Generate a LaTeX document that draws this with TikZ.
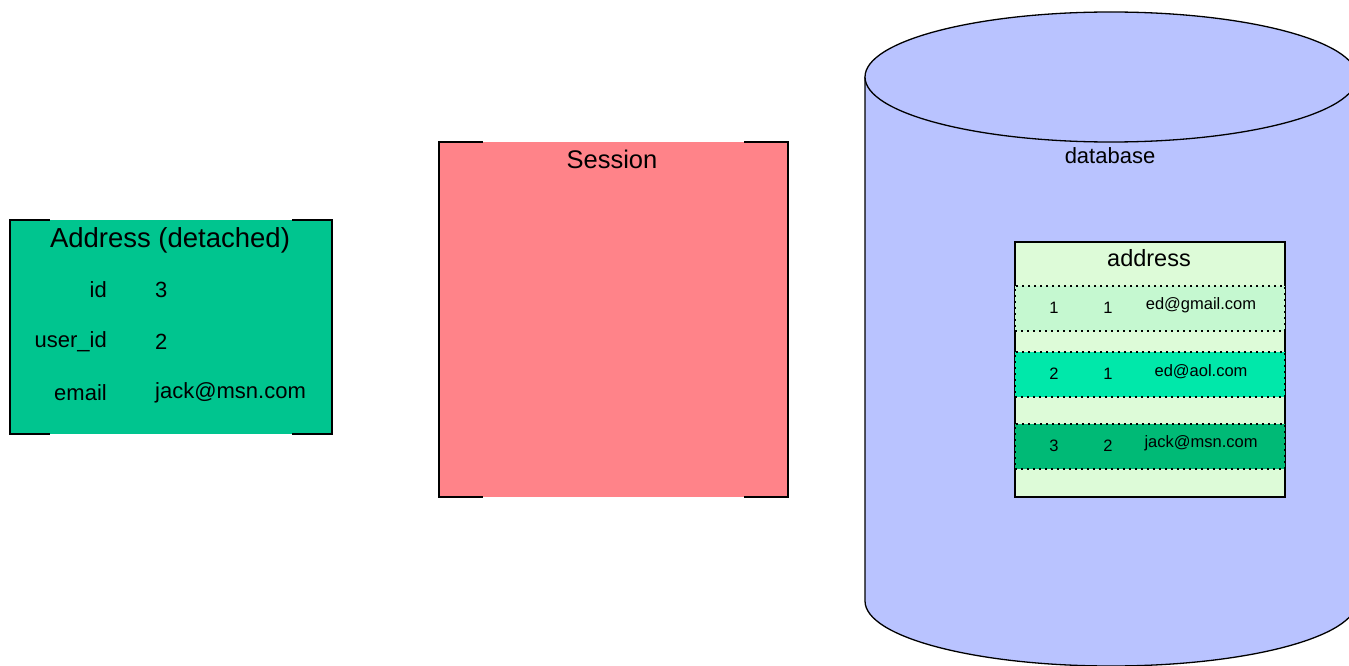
\documentclass[tikz,border=0pt]{standalone}
\usepackage{fontspec}
\setmainfont{Liberation Sans}
\definecolor{detgreen}{RGB}{0,197,143}
\definecolor{sesspink}{RGB}{255,131,137}
\definecolor{dbblue}{RGB}{185,195,255}
\definecolor{tblbg}{RGB}{221,251,216}
\definecolor{rowa}{RGB}{197,248,208}
\definecolor{rowb}{RGB}{0,232,170}
\definecolor{rowc}{RGB}{0,186,118}
\tikzset{
  bracketline/.style={draw=black, line width=1.5pt},
  bigtext/.style={font=\fontsize{25.5}{30}\selectfont, inner sep=0pt},
  midtext/.style={font=\fontsize{22}{26}\selectfont, inner sep=0pt},
  smalltext/.style={font=\fontsize{16.5}{20}\selectfont, inner sep=0pt},
  rowbox/.style={draw=black, line width=1.5pt, dash pattern=on 2.2pt off 3.8pt, minimum width=270pt, minimum height=45pt, inner sep=0pt},
}
\begin{document}
\begin{tikzpicture}[x=1pt,y=-1pt]
\useasboundingbox (0,0) rectangle (1349,666);
\clip (0,0) rectangle (1349,666);
% detached address
\node[fill=detgreen, minimum width=322pt, minimum height=214pt, inner sep=0pt] (det) at (171,327) {};
\draw[bracketline] ([xshift=40pt]det.north west) -- (det.north west) -- (det.south west) -- ([xshift=40pt]det.south west);
\draw[bracketline] ([xshift=-40pt]det.north east) -- (det.north east) -- (det.south east) -- ([xshift=-40pt]det.south east);
\node[bigtext, font=\fontsize{27.5}{32}\selectfont] (dettitle) at (170,240) {Address (detached)};
\node[midtext, anchor=east] (kid) at (107,290) {id};
\node[midtext, anchor=west] (vid) at (155,290) {3};
\node[midtext, anchor=east] (kuid) at (107,342) {user\_id};
\node[midtext, anchor=west] (vuid) at (155,342) {2};
\node[midtext, anchor=east] (kem) at (107,393) {email};
\node[midtext, anchor=west] (vem) at (155,393) {jack@msn.com};
% session
\node[fill=sesspink, minimum width=349pt, minimum height=355pt, inner sep=0pt] (sess) at (613.5,319.5) {};
\draw[bracketline] ([xshift=44pt]sess.north west) -- (sess.north west) -- (sess.south west) -- ([xshift=44pt]sess.south west);
\draw[bracketline] ([xshift=-44pt]sess.north east) -- (sess.north east) -- (sess.south east) -- ([xshift=-44pt]sess.south east);
\node[bigtext] (sesstitle) at (612,159) {Session};
% database cylinder
\coordinate (cyltl) at (865,77);
\coordinate (cylbl) at (865,601);
\draw[fill=dbblue, line width=1.3pt] (cyltl) -- (cylbl) arc[start angle=180, end angle=0, x radius=246, y radius=65] -- (1357,77);
\draw[fill=dbblue, line width=1.3pt] (1111,77) ellipse[x radius=246, y radius=65];
\node[midtext] (dbtitle) at (1110,156) {database};
% address table
\node[draw=black, fill=tblbg, line width=1.5pt, minimum width=270pt, minimum height=255pt, inner sep=0pt] (tbl) at (1150,369.5) {};
\node[bigtext, font=\fontsize{23.5}{28}\selectfont] (tbltitle) at (1149,258) {address};
\node[rowbox, fill=rowa] (r1) at (1150,308.5) {};
\node[rowbox, fill=rowb] (r2) at (1150,374.5) {};
\node[rowbox, fill=rowc] (r3) at (1150,446.5) {};
\node[smalltext] (r1a) at (1054,307.5) {1};
\node[smalltext] (r1b) at (1108,307.5) {1};
\node[smalltext] (r1c) at (1201,305.5) {ed@gmail.com};
\node[smalltext] (r2a) at (1054,373.5) {2};
\node[smalltext] (r2b) at (1108,373.5) {1};
\node[smalltext] (r2c) at (1201,371.5) {ed@aol.com};
\node[smalltext] (r3a) at (1054,445.5) {3};
\node[smalltext] (r3b) at (1108,445.5) {2};
\node[smalltext] (r3c) at (1201,443.5) {jack@msn.com};
\end{tikzpicture}
\end{document}
